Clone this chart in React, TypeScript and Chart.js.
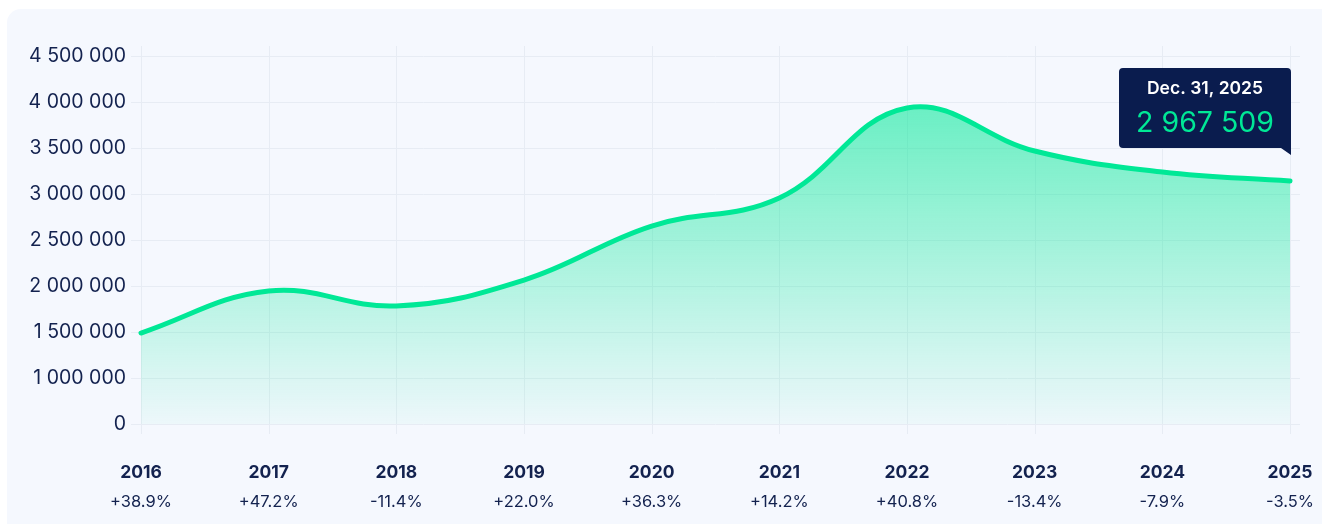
import React, { useEffect, useRef } from "react";
import { Chart, registerables } from "chart.js";

Chart.register(...registerables);

const years = ["2016", "2017", "2018", "2019", "2020", "2021", "2022", "2023", "2024", "2025"];
const changes = ["+38.9%", "+47.2%", "-11.4%", "+22.0%", "+36.3%", "+14.2%", "+40.8%", "-13.4%", "-7.9%", "-3.5%"];
const values = [1489000, 1946000, 1783000, 2065000, 2652000, 2957000, 3935000, 3467000, 3239000, 3141000];
const yTickLabels = ["0", "1 000 000", "1 500 000", "2 000 000", "2 500 000", "3 000 000", "3 500 000", "4 000 000", "4 500 000"];
const tooltipDate = "Dec. 31, 2025";
const tooltipValue = "2 967 509";

const FONT = "Inter, 'Noto Sans', sans-serif";
const TEXT = "#13224f";
const GREEN = "#00e896";
const GRID = "#e7ecf4";

const gridPlugin = {
  id: "customGrid",
  beforeDatasetsDraw(chart: any) {
    const { ctx, chartArea, scales } = chart;
    const ext = 10;
    ctx.save();
    ctx.strokeStyle = GRID;
    ctx.lineWidth = 1;
    scales.y.ticks.forEach((t: any) => {
      const y = Math.round(scales.y.getPixelForValue(t.value)) + 0.5;
      ctx.beginPath();
      ctx.moveTo(chartArea.left - ext, y);
      ctx.lineTo(chartArea.right + ext, y);
      ctx.stroke();
    });
    years.forEach((_, i) => {
      const x = Math.round(scales.x.getPixelForValue(i)) + 0.5;
      ctx.beginPath();
      ctx.moveTo(x, chartArea.top - ext);
      ctx.lineTo(x, chartArea.bottom + ext);
      ctx.stroke();
    });
    ctx.restore();
  },
};

const tipPlugin = {
  id: "fixedTip",
  afterDraw(chart: any) {
    const meta = chart.getDatasetMeta(0);
    const pt = meta.data[meta.data.length - 1];
    if (!pt) return;
    const { ctx } = chart;
    const w = 172;
    const h = 80;
    const right = pt.x + 1;
    const bottom = pt.y - 33;
    const left = right - w;
    const top = bottom - h;
    const r = 4;
    ctx.save();
    ctx.fillStyle = "#0a1c4e";
    ctx.beginPath();
    ctx.moveTo(left + r, top);
    ctx.lineTo(right - r, top);
    ctx.quadraticCurveTo(right, top, right, top + r);
    ctx.lineTo(right, bottom + 7);
    ctx.lineTo(right - 10, bottom);
    ctx.lineTo(left + r, bottom);
    ctx.quadraticCurveTo(left, bottom, left, bottom - r);
    ctx.lineTo(left, top + r);
    ctx.quadraticCurveTo(left, top, left + r, top);
    ctx.closePath();
    ctx.fill();
    ctx.textAlign = "center";
    ctx.textBaseline = "middle";
    ctx.fillStyle = "#ffffff";
    ctx.font = `600 17.5px ${FONT}`;
    ctx.fillText(tooltipDate, left + w / 2, top + 21);
    ctx.fillStyle = GREEN;
    ctx.font = `400 28.5px ${FONT}`;
    ctx.fillText(tooltipValue, left + w / 2, top + 55);
    ctx.restore();
  },
};

export default function App() {
  const ref = useRef<HTMLCanvasElement>(null);

  useEffect(() => {
    document.documentElement.style.overflow = "hidden";
    const canvas = ref.current;
    if (!canvas) return;
    const chart = new Chart(canvas, {
      type: "line",
      data: {
        labels: years,
        datasets: [
          {
            data: values,
            borderColor: GREEN,
            borderWidth: 5,
            borderCapStyle: "round",
            borderJoinStyle: "round",
            tension: 0.4,
            pointRadius: 0,
            pointHoverRadius: 0,
            fill: "origin",
            clip: false as any,
            backgroundColor: (c: any) => {
              const area = c.chart.chartArea;
              if (!area) return "rgba(0,232,150,0.3)";
              const g = c.chart.ctx.createLinearGradient(0, area.top, 0, area.bottom);
              g.addColorStop(0, "rgba(0,232,150,0.65)");
              g.addColorStop(1, "rgba(0,232,150,0.03)");
              return g;
            },
          },
        ],
      },
      options: {
        animation: false,
        responsive: true,
        maintainAspectRatio: false,
        layout: { padding: { top: 47, bottom: 9, left: 0, right: 32 } },
        plugins: { legend: { display: false }, tooltip: { enabled: false } },
        events: [],
        scales: {
          x: {
            type: "category",
            position: "bottom",
            grid: { display: false, drawTicks: false },
            border: { display: false },
            ticks: {
              color: TEXT,
              font: { family: FONT, size: 17.5, weight: "bold" },
              padding: 38,
              maxRotation: 0,
              autoSkip: false,
            },
            afterFit: (s: any) => {
              s.height = 58;
              s.paddingLeft = 0;
              s.paddingRight = 0;
            },
          },
          x2: {
            type: "category",
            position: "bottom",
            labels: changes,
            grid: { display: false, drawTicks: false },
            border: { display: false },
            ticks: {
              color: TEXT,
              font: { family: FONT, size: 16.5, weight: "normal" },
              padding: 10,
              maxRotation: 0,
              autoSkip: false,
            },
            afterFit: (s: any) => {
              s.height = 30;
              s.paddingLeft = 0;
              s.paddingRight = 0;
            },
          },
          y: {
            type: "linear",
            min: 500000,
            max: 4500000,
            grid: { display: false, drawTicks: false },
            border: { display: false },
            ticks: {
              stepSize: 500000,
              color: TEXT,
              font: { family: FONT, size: 19.5 },
              padding: 15,
              callback: (_v: any, i: number) => yTickLabels[i],
            },
            afterFit: (s: any) => {
              s.width = 134;
              s.paddingTop = 0;
              s.paddingBottom = 0;
            },
          },
        },
      },
      plugins: [gridPlugin, tipPlugin],
    });
    return () => chart.destroy();
  }, []);

  return (
    <div
      style={{
        position: "fixed",
        left: 7,
        top: 9,
        width: 1340,
        height: 530,
        background: "#f5f8fe",
        borderRadius: 14,
        overflow: "hidden",
      }}
    >
      <div style={{ position: "relative", width: 1315, height: 512 }}>
        <canvas ref={ref} />
      </div>
    </div>
  );
}
